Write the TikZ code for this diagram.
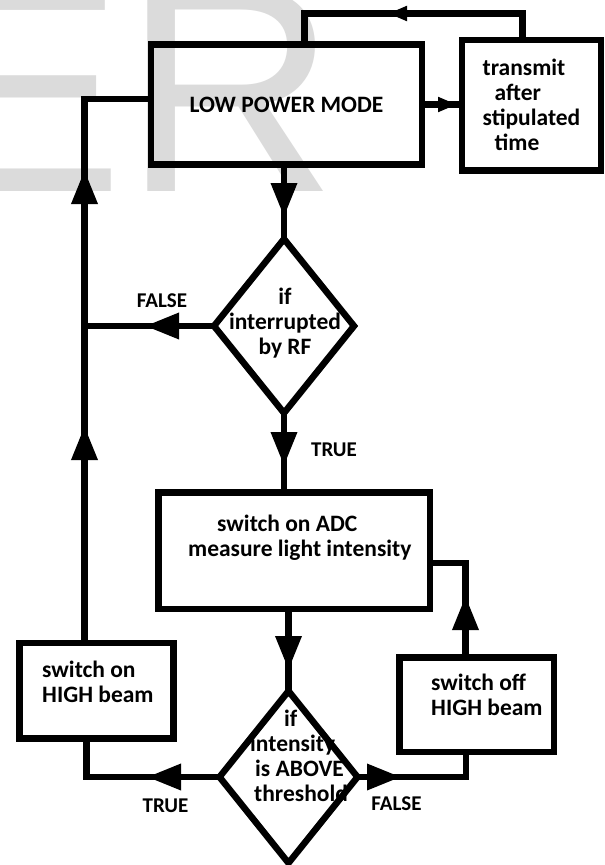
\documentclass[tikz,border=0pt]{standalone}
\usepackage{fontspec}
\setmainfont{Carlito}
\newfontfamily\wmfont{Liberation Sans}
\usetikzlibrary{shapes.geometric,arrows.meta}
\tikzset{
  box/.style={draw, line width=6.5pt, rectangle, inner sep=0pt, outer sep=0pt, font=\fontsize{23.5}{25}\selectfont\bfseries},
  dia/.style={draw, line width=6.5pt, diamond, inner sep=0pt, outer sep=0pt},
  txt/.style={inner sep=0pt, font=\fontsize{23.5}{25}\selectfont\bfseries},
  lbl/.style={inner sep=0pt, font=\fontsize{21}{24}\selectfont\bfseries},
  conn/.style={line width=6.5pt},
  bt/.style={-{Triangle[length=34pt,width=25pt]}},
  st/.style={-{Triangle[length=19pt,width=14pt]}}
}
\begin{document}
\begin{tikzpicture}[x=1pt,y=-1pt]
\path[use as bounding box] (0,0) rectangle (605,865);
\clip (0,0) rectangle (605,865);
\fill[white] (0,0) rectangle (605,865);
% watermark
\node[anchor=base west, inner sep=0pt, text=black!14, font=\wmfont\fontsize{296}{296}\selectfont] (wm) at (-74,191) {ER};
% boxes
\node[box, minimum width=271pt, minimum height=120pt] (lpm) at (286.5,104.5) {LOW POWER MODE};
\node[box, minimum width=139pt, minimum height=130.5pt, align=left] (tx) at (531.5,105.25) {transmit\\\hspace*{12pt}after\\stipulated\\\hspace*{12pt}time};
\node[dia, minimum width=140pt, minimum height=174pt] (d1) at (284,326) {};
\node[txt, align=center] (d1t) at (285,323) {if\\interrupted\\by RF};
\node[box, minimum width=271.5pt, minimum height=116.5pt] (adc) at (294.25,550.75) {};
\node[txt, anchor=west, align=left] (adct) at (188,538) {\hspace*{29pt}switch on ADC\\measure light intensity};
\node[dia, minimum width=138pt, minimum height=172pt] (d2) at (288.5,777) {};
\node[txt, anchor=west, align=left] (d2t) at (250,756) {\hspace*{34pt}if\\intensity\\\hspace*{5pt}is ABOVE\\\hspace*{4pt}threshold};
\node[box, minimum width=154pt, minimum height=95.5pt] (hon) at (96.5,690.75) {};
\node[txt, anchor=west, align=left] (hont) at (42,682) {switch on\\HIGH beam};
\node[box, minimum width=154.5pt, minimum height=94.5pt] (hoff) at (476.75,704.75) {};
\node[txt, anchor=west, align=left] (hofft) at (431,694.5) {switch off\\HIGH beam};
% labels
\node[lbl] (f1) at (162,301) {FALSE};
\node[lbl] (t1l) at (334,450) {TRUE};
\node[lbl] (t2l) at (165.5,806) {TRUE};
\node[lbl] (f2) at (396.5,804) {FALSE};
% corner coordinates
\coordinate (t1) at (522.5,13.5);
\coordinate (t2) at (304.5,13.5);
\coordinate (c1) at (84.5,99);
\coordinate (c2) at (465.5,563);
\coordinate (c3) at (466,777);
\coordinate (c4) at (86.5,777);
% arrow tip coordinates
\coordinate (a1) at (457,104.5);
\coordinate (a2) at (388,13.5);
\coordinate (a3) at (284,217);
\coordinate (a4) at (145,326);
\coordinate (a5) at (84.5,426);
\coordinate (a6) at (84.5,170);
\coordinate (a7) at (284,466);
\coordinate (a8) at (288.5,670);
\coordinate (a9) at (465.5,596);
\coordinate (a10) at (401,777);
\coordinate (a11) at (147,777);
% connectors: full lines
\draw[conn] (lpm.east) -- (lpm.east -| tx.west);
\draw[conn] (tx.north -| t1) -- (t1) -- (t2) -- (t2 |- lpm.north);
\draw[conn] (d1.north |- lpm.south) -- (d1.north);
\draw[conn] (d1.west) -- (d1.west -| c1);
\draw[conn] (hon.north -| c1) -- (c1) -- (c1 -| lpm.west);
\draw[conn] (d1.south) -- (d1.south |- adc.north);
\draw[conn] (d2.north |- adc.south) -- (d2.north);
\draw[conn] (hoff.north -| c2) -- (c2) -- (c2 -| adc.east);
\draw[conn] (d2.east) -- (c3) -- (c3 |- hoff.south);
\draw[conn] (d2.west) -- (c4) -- (c4 |- hon.south);
% arrowheads
\draw[conn, st] (lpm.east) -- (a1);
\draw[conn, st] (t1) -- (a2);
\draw[conn, bt] (d1.north |- lpm.south) -- (a3);
\draw[conn, bt] (d1.west) -- (a4);
\draw[conn, bt] (hon.north -| c1) -- (a5);
\draw[conn, bt] (a5) -- (a6);
\draw[conn, bt] (d1.south) -- (a7);
\draw[conn, bt] (d2.north |- adc.south) -- (a8);
\draw[conn, bt] (hoff.north -| c2) -- (a9);
\draw[conn, bt] (d2.east) -- (a10);
\draw[conn, bt] (d2.west) -- (a11);
\end{tikzpicture}
\end{document}
